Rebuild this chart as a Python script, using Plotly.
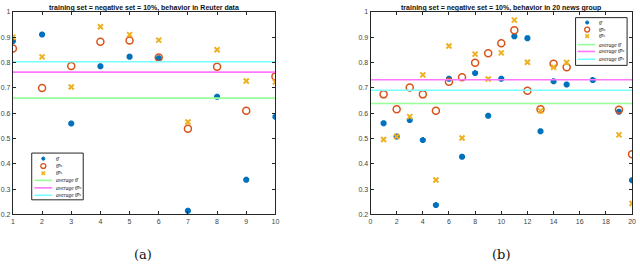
import plotly.graph_objects as go

# ---- data: (a) Reuter ----
xa = list(range(1, 11))
theta_a = [0.885, 0.910, 0.559, 0.785, 0.823, 0.817, 0.215, 0.665, 0.337, 0.586]
thetaPu_a = [0.855, 0.699, 0.786, 0.882, 0.887, 0.820, 0.538, 0.783, 0.609, 0.745]
thetaPa_a = [0.900, 0.822, 0.703, 0.941, 0.910, 0.888, 0.565, 0.850, 0.727, 0.723]
avg_a = [0.659, 0.762, 0.803]  # avg theta, avg Pu, avg Pa

# ---- data: (b) 20 news group ----
xb = list(range(1, 21))
theta_b = [0.560, 0.508, 0.573, 0.494, 0.237, 0.736, 0.428, 0.758, 0.590, 0.736,
           0.903, 0.896, 0.528, 0.726, 0.713, None, 0.731, None, 0.605, 0.335]
thetaPu_b = [0.674, 0.615, 0.701, 0.674, 0.609, 0.724, 0.742, 0.799, 0.836, 0.876,
             0.927, 0.688, 0.615, 0.795, 0.781, None, None, None, 0.613, 0.438]
thetaPa_b = [0.496, 0.508, 0.586, 0.751, 0.336, 0.865, 0.502, 0.833, 0.735, 0.838,
             0.967, 0.801, 0.609, 0.781, 0.800, None, None, None, 0.514, 0.243]
avg_b = [0.638, 0.732, 0.690]

yticks = [0.2, 0.3, 0.4, 0.5, 0.6, 0.7, 0.8, 0.9, 1.0]
ytext = ["0.2", "0.3", "0.4", "0.5", "0.6", "0.7", "0.8", "0.9", "1"]

names = ["θ̂", "θ̂ᴾᵘ", "θ̂ᴾᵃ"]
avg_names = ["<i>average</i> θ̂", "<i>average</i> θ̂ᴾᵘ", "<i>average</i> θ̂ᴾᵃ"]
BLUE, ORANGE, YELLOW = "#0072BD", "#D95319", "#EDB120"
LINE_COLORS = ["#99ff99", "#ff77ff", "#77ffff"]

W, H = 640, 272
fig = go.Figure()


def add_panel(x, th, pu, pa, avgs, xaxis, yaxis, xr):
    fig.add_trace(go.Scatter(x=x, y=th, mode="markers", name=names[0],
                             marker=dict(symbol="asterisk", size=5, color=BLUE,
                                         line=dict(color=BLUE, width=2.5)),
                             xaxis=xaxis, yaxis=yaxis))
    fig.add_trace(go.Scatter(x=x, y=pu, mode="markers", name=names[1],
                             marker=dict(symbol="circle-open", size=7, color=ORANGE,
                                         line=dict(color=ORANGE, width=1.5)),
                             xaxis=xaxis, yaxis=yaxis))
    fig.add_trace(go.Scatter(x=x, y=pa, mode="markers", name=names[2],
                             marker=dict(symbol="x-thin", size=5, color=YELLOW,
                                         line=dict(color=YELLOW, width=2)),
                             xaxis=xaxis, yaxis=yaxis))
    for v, nm, c in zip(avgs, avg_names, LINE_COLORS):
        fig.add_trace(go.Scatter(x=xr, y=[v, v], mode="lines", name=nm,
                                 line=dict(color=c, width=1.6),
                                 xaxis=xaxis, yaxis=yaxis))


add_panel(xa, theta_a, thetaPu_a, thetaPa_a, avg_a, "x", "y", [1, 10])
add_panel(xb, theta_b, thetaPu_b, thetaPa_b, avg_b, "x2", "y2", [0, 20])

axis_common = dict(showgrid=False, zeroline=False, showline=True, mirror="ticks",
                   linecolor="#262626", linewidth=1, ticks="inside", ticklen=3,
                   tickcolor="#262626", tickfont=dict(size=7, color="#444444",
                                                      family="Liberation Sans"))

fig.update_layout(
    width=W, height=H, margin=dict(l=0, r=0, t=0, b=0),
    paper_bgcolor="white", plot_bgcolor="white", showlegend=False,
    xaxis=dict(domain=[11 / W, 276 / W], range=[1, 10],
               tickvals=list(range(1, 11)), **axis_common),
    yaxis=dict(domain=[56 / H, 264 / H], range=[0.2, 1.0],
               tickvals=yticks, ticktext=ytext, **axis_common),
    xaxis2=dict(domain=[372 / W, 636 / W], range=[0, 20],
                tickvals=list(range(0, 21, 2)), anchor="y2", **axis_common),
    yaxis2=dict(domain=[56 / H, 264 / H], range=[0.2, 1.0],
                tickvals=yticks, ticktext=ytext, anchor="x2", **axis_common),
)


def px(x):
    return x / W


def py(y):
    return (H - y) / H


# ---- hand-built compact legends (plotly's own legend rows are too tall) ----
def add_legend(box, rows, sym_x, line_x0, line_x1, text_x):
    x0, y0, x1, y1 = box
    fig.add_shape(type="rect", xref="paper", yref="paper",
                  x0=px(x0), x1=px(x1), y0=py(y0), y1=py(y1),
                  line=dict(color="#262626", width=1), fillcolor="white", layer="above")
    labels = names + avg_names
    for i, (ry, lab) in enumerate(zip(rows, labels)):
        if i == 0:
            fig.add_shape(type="circle", xref="paper", yref="paper",
                          x0=px(sym_x - 1.6), x1=px(sym_x + 1.6),
                          y0=py(ry - 1.6), y1=py(ry + 1.6),
                          line=dict(color=BLUE, width=1), fillcolor=BLUE, layer="above")
        elif i == 1:
            fig.add_shape(type="circle", xref="paper", yref="paper",
                          x0=px(sym_x - 2.5), x1=px(sym_x + 2.5),
                          y0=py(ry - 2.5), y1=py(ry + 2.5),
                          line=dict(color=ORANGE, width=1.3), layer="above")
        elif i == 2:
            for a, b in ((-1.8, 1.8), (1.8, -1.8)):
                fig.add_shape(type="line", xref="paper", yref="paper",
                              x0=px(sym_x - 1.8), x1=px(sym_x + 1.8),
                              y0=py(ry + a), y1=py(ry + b),
                              line=dict(color=YELLOW, width=1.5), layer="above")
        else:
            fig.add_shape(type="line", xref="paper", yref="paper",
                          x0=px(line_x0), x1=px(line_x1), y0=py(ry), y1=py(ry),
                          line=dict(color=LINE_COLORS[i - 3], width=1.6), layer="above")
        fig.add_annotation(text=lab, x=px(text_x), y=py(ry), xref="paper", yref="paper",
                           showarrow=False, xanchor="left", yanchor="middle",
                           font=dict(size=5.5, family="Liberation Serif", color="#111"))


add_legend((30, 153, 82, 201), [158.7, 166.3, 173.7, 181.0, 188.7, 196.3],
           41.7, 32.7, 50.7, 52.0)
add_legend((579, 14, 631, 63), [19.0, 26.3, 33.0, 41.7, 48.7, 56.7],
           590.7, 581.0, 598.7, 600.5)

ann_font = dict(size=7, family="Liberation Sans", color="#111")
fig.add_annotation(text="<b>training set = negative set = 10%, behavior in Reuter data</b>",
                   x=px(143.5), y=py(4), xref="paper", yref="paper",
                   showarrow=False, font=ann_font, xanchor="center", yanchor="middle")
fig.add_annotation(text="<b>training set = negative set = 10%, behavior in 20 news group</b>",
                   x=px(504), y=py(4), xref="paper", yref="paper",
                   showarrow=False, font=ann_font, xanchor="center", yanchor="middle")
cap_font = dict(size=13, family="DejaVu Serif", color="#111")
fig.add_annotation(text="(a)", x=px(142), y=py(257), xref="paper", yref="paper",
                   showarrow=False, font=cap_font, xanchor="center", yanchor="middle")
fig.add_annotation(text="(b)", x=px(504), y=py(257), xref="paper", yref="paper",
                   showarrow=False, font=cap_font, xanchor="center", yanchor="middle")

fig.write_html("out.html", post_script="document.body.style.margin='0';",
               config={"displayModeBar": False})
